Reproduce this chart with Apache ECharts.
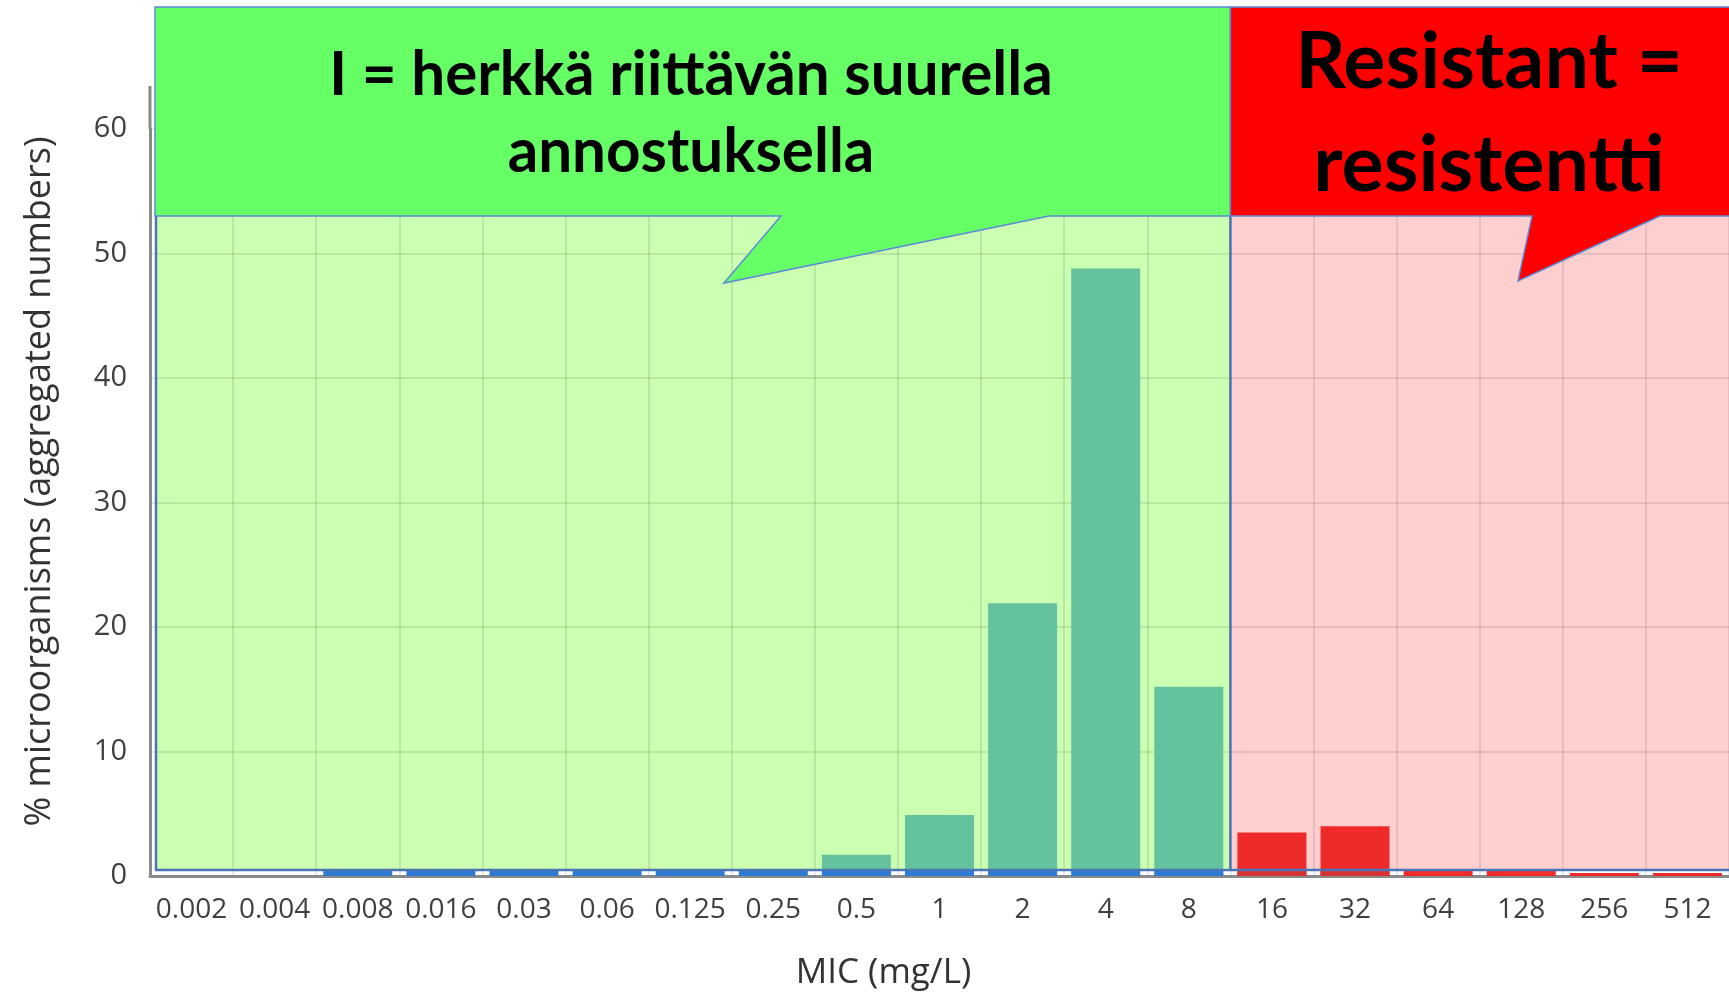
<!DOCTYPE html>
<html>
<head>
<meta charset="utf-8">
<script src="https://cdn.jsdelivr.net/npm/echarts@6/dist/echarts.min.js"></script>
<style>
  html, body { margin: 0; padding: 0; background: #fff; }
  #chart { width: 1729px; height: 996px; }
</style>
</head>
<body>
<div id="chart"></div>
<script>
// MIC categories (mg/L)
const micLabels = ["0.002", "0.004", "0.008", "0.016", "0.03", "0.06", "0.125", "0.25", "0.5",
  "1", "2", "4", "8", "16", "32", "64", "128", "256", "512"];
// % microorganisms per MIC
const pctValues = [0, 0, 0.1, 0.1, 0.1, 0.1, 0.1, 0.1, 1.7, 4.9, 21.9, 48.8, 15.2, 3.5, 4.0, 0.4, 0.4, 0.25, 0.25];
// thin base strip under the bars
const baseStrip = [0, 0, 0.4, 0.4, 0.4, 0.4, 0.4, 0.4, 0.4, 0.4, 0.4, 0.4, 0.4, 0.4, 0.4, 0, 0, 0, 0];
const yTicks = [0, 10, 20, 30, 40, 50, 60];
const firstResistant = "16";
const textI = ["I = herkkä riittävän suurella", "annostuksella"];
const textR = ["Resistant =", "resistentti"];

const TEAL = "#64c39e", RED = "#ee2a2a", BLUE = "#2f7bd4", RED_DARK = "#d93232";
const rIdx = micLabels.indexOf(firstResistant);

const chart = echarts.init(document.getElementById("chart"));

chart.setOption({
  animation: false,
  grid: { left: 150, right: 0, top: 129, bottom: 119 },
  xAxis: {
    type: "category",
    data: micLabels,
    name: "MIC (mg/L)",
    nameLocation: "middle",
    nameGap: 80,
    nameTextStyle: { fontFamily: "Open Sans", fontSize: 35, color: "#333", padding: [0, 112, 0, 0] },
    axisTick: { show: false },
    axisLine: { lineStyle: { color: "#8a8a8a", width: 3 } },
    axisLabel: { interval: 0, fontFamily: "Open Sans", fontSize: 28, color: "#404040", margin: 20 },
    splitLine: { show: true, interval: 0, lineStyle: { color: "rgba(0,0,0,0.09)", width: 2 } }
  },
  yAxis: {
    type: "value",
    min: yTicks[0],
    max: yTicks[yTicks.length - 1],
    interval: yTicks[1] - yTicks[0],
    name: "% microorganisms (aggregated numbers)",
    nameLocation: "middle",
    nameGap: 92,
    nameTextStyle: { fontFamily: "Open Sans", fontSize: 36, color: "#333", padding: [0, 0, 0, 42] },
    axisLine: { show: true, lineStyle: { color: "#8a8a8a", width: 3 } },
    axisTick: { show: false },
    axisLabel: { fontFamily: "Open Sans", fontSize: 29, color: "#404040", margin: 23 },
    splitLine: { lineStyle: { color: "rgba(0,0,0,0.09)", width: 2 } }
  },
  series: [
    {
      name: "pct",
      type: "bar",
      barWidth: "83%",
      barGap: "-100%",
      data: pctValues,
      itemStyle: { color: p => p.dataIndex >= rIdx ? RED : TEAL },
      z: 2
    },
    {
      name: "strip",
      type: "bar",
      barWidth: "83%",
      barGap: "-100%",
      data: baseStrip,
      itemStyle: { color: p => p.dataIndex >= rIdx ? RED_DARK : BLUE },
      z: 3
    }
  ]
});

// annotations drawn over the chart
const px = c => chart.convertToPixel({ xAxisIndex: 0 }, c);
const bandW = px(micLabels[1]) - px(micLabels[0]);
const xDiv = px(firstResistant) - bandW / 2;
const yZero = chart.convertToPixel({ yAxisIndex: 0 }, 0);
const yMax = chart.convertToPixel({ yAxisIndex: 0 }, yTicks[yTicks.length - 1]);
const W = 1729;
const boxTop = 7, boxBot = 216, xL = 155;
const yFloor = yZero - 6;
const edge = "#4a74b8";
const calloutFont = { fill: "#000", fontFamily: "Lato", fontWeight: "bold", align: "center", verticalAlign: "middle" };

chart.setOption({
  graphic: [
    // light backgrounds
    { type: "rect", z: -1, shape: { x: xL, y: boxBot, width: xDiv - xL, height: yFloor - boxBot },
      style: { fill: "#cbffb1" } },
    { type: "rect", z: -1, shape: { x: xDiv, y: boxBot, width: W - xDiv, height: yFloor - boxBot },
      style: { fill: "#ffcfcf" } },
    // y-axis line extension
    { type: "line", z: 5, shape: { x1: 150, y1: 86, x2: 150, y2: yMax }, style: { stroke: "#8a8a8a", lineWidth: 3 } },
    // blue borders
    { type: "line", z: 10, shape: { x1: xL + 1, y1: boxBot, x2: xL + 1, y2: yFloor }, style: { stroke: edge, lineWidth: 2.5 } },
    { type: "line", z: 10, shape: { x1: xL, y1: yFloor, x2: W, y2: yFloor }, style: { stroke: edge, lineWidth: 2.5 } },
    { type: "line", z: 10, shape: { x1: xDiv, y1: boxTop, x2: xDiv, y2: yFloor }, style: { stroke: edge, lineWidth: 2.5 } },
    // green callout
    { type: "polygon", z: 20,
      shape: { points: [[xL, boxTop], [xDiv, boxTop], [xDiv, boxBot], [1049, boxBot], [724, 283], [781, boxBot], [xL, boxBot]] },
      style: { fill: "#66ff66", stroke: "#5b8ad6", lineWidth: 1.5 } },
    // red callout
    { type: "polygon", z: 20,
      shape: { points: [[xDiv, boxTop], [W + 2, boxTop], [W + 2, boxBot], [1660, boxBot], [1518, 281], [1532, boxBot], [xDiv, boxBot]] },
      style: { fill: "#ff0000", stroke: "#5b8ad6", lineWidth: 1.5 } },
    { type: "text", z: 21, x: 691, y: 75, scaleX: 0.97,
      style: Object.assign({ text: textI[0], fontSize: 62 }, calloutFont) },
    { type: "text", z: 21, x: 691, y: 152, scaleX: 0.97,
      style: Object.assign({ text: textI[1], fontSize: 62 }, calloutFont) },
    { type: "text", z: 21, x: 1489, y: 63,
      style: Object.assign({ text: textR[0], fontSize: 79 }, calloutFont) },
    { type: "text", z: 21, x: 1489, y: 166,
      style: Object.assign({ text: textR[1], fontSize: 79 }, calloutFont) }
  ]
});

window.addEventListener("resize", () => chart.resize());
</script>
</body>
</html>
